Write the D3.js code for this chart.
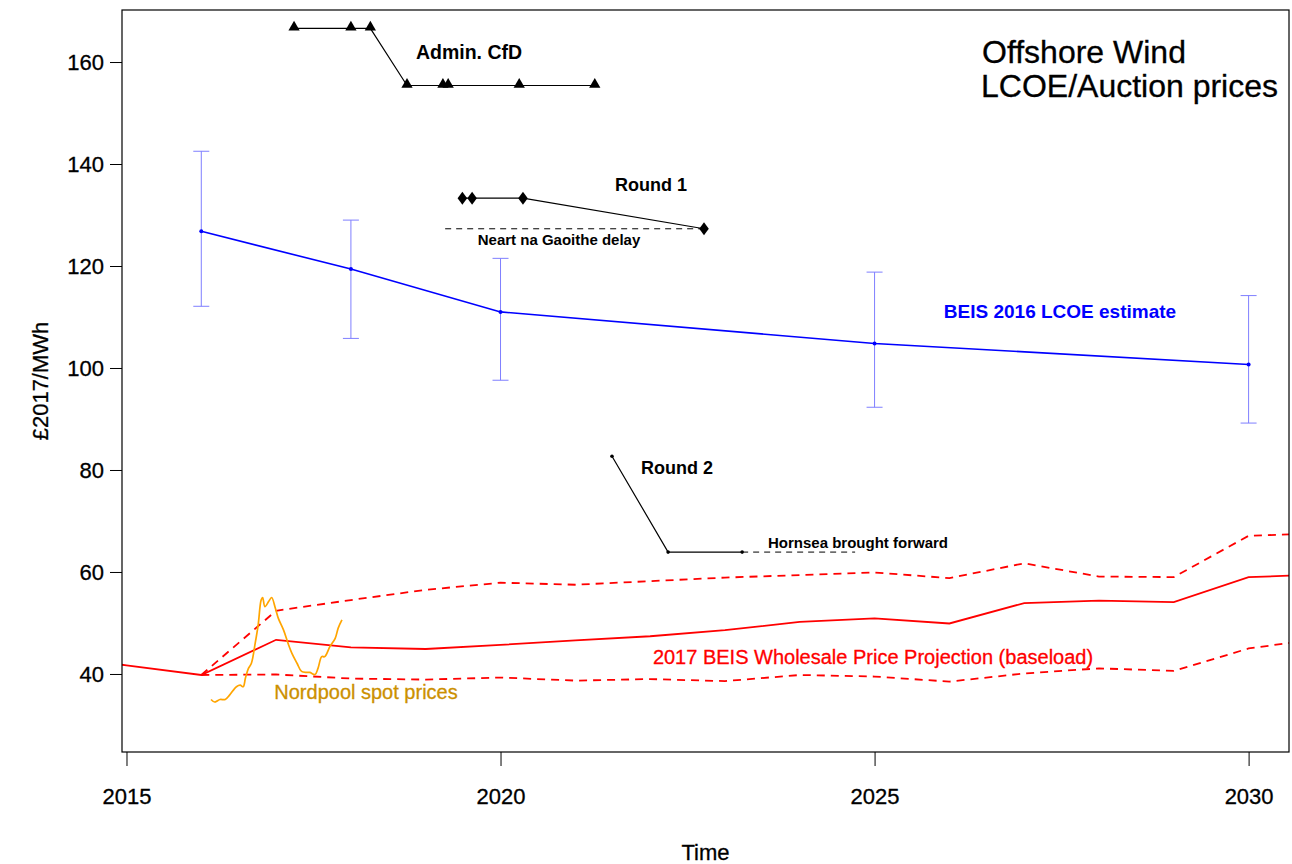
<!DOCTYPE html>
<html>
<head>
<meta charset="utf-8">
<script src="https://cdn.jsdelivr.net/npm/d3@7"></script>
<style>
  html, body { margin: 0; padding: 0; background: #fff; }
  svg { display: block; font-family: "Liberation Sans", Arial, sans-serif; }
</style>
</head>
<body>
<svg id="chart" width="1292" height="864"></svg>
<script>
// ---- Axis ticks ----
const xTicks = [2015, 2020, 2025, 2030];
const yTicks = [40, 60, 80, 100, 120, 140, 160];

// ---- BEIS 2016 LCOE estimate (central, low, high) ----
const lcoeYears = [2016, 2018, 2020, 2025, 2030];
const lcoeCentral = [126.8, 119.4, 111.0, 104.8, 100.7];
const lcoeLow = [112.1, 105.8, 97.6, 92.3, 89.2];
const lcoeHigh = [142.5, 129.0, 121.5, 118.8, 114.2];

// ---- Administrative CfD strike prices ----
const cfdYears = [2017.24, 2018.0, 2018.26, 2018.75, 2019.23, 2019.30, 2020.25, 2021.26];
const cfdPrices = [166.6, 166.6, 166.6, 155.4, 155.4, 155.4, 155.4, 155.4];

// ---- Auction Round 1 ----
const r1Years = [2019.49, 2019.62, 2020.30, 2022.72];
const r1Prices = [133.3, 133.3, 133.3, 127.3];
const r1DelayYears = [2019.26, 2022.72];

// ---- Auction Round 2 ----
const r2Years = [2021.49, 2022.24, 2023.23];
const r2Prices = [82.7, 63.9, 63.9];
const r2ForwardYears = [2023.23, 2024.74];

// ---- 2017 BEIS wholesale price projection (baseload) ----
const wsYears = [2014, 2015, 2016, 2017, 2018, 2019, 2020, 2021, 2022, 2023, 2024, 2025, 2026, 2027, 2028, 2029, 2030, 2031];
const wsCentral = [43.6, 41.7, 39.8, 46.7, 45.2, 44.9, 45.7, 46.6, 47.4, 48.6, 50.2, 50.9, 49.9, 53.9, 54.4, 54.1, 59.0, 59.5];
const wsHighYears = [2016, 2017, 2018, 2019, 2020, 2021, 2022, 2023, 2024, 2025, 2026, 2027, 2028, 2029, 2030, 2031];
const wsHigh = [39.8, 52.4, 54.5, 56.5, 57.9, 57.5, 58.2, 58.9, 59.4, 59.9, 58.8, 61.7, 59.1, 59.0, 67.1, 67.6];
const wsLow = [39.8, 39.9, 39.1, 38.9, 39.3, 38.7, 39.0, 38.6, 39.8, 39.5, 38.5, 40.1, 41.1, 40.6, 45.0, 47.0];

// ---- Nordpool spot prices (smoothed) ----
const nordYears = [2016.13, 2016.18, 2016.25, 2016.32, 2016.38, 2016.47, 2016.52, 2016.56, 2016.59, 2016.63,
  2016.67, 2016.72, 2016.76, 2016.80, 2016.82, 2016.85, 2016.90, 2016.94, 2016.99, 2017.03,
  2017.10, 2017.16, 2017.21, 2017.28, 2017.34, 2017.41, 2017.45, 2017.52, 2017.56, 2017.61,
  2017.65, 2017.72, 2017.79, 2017.83, 2017.88];
const nordPrices = [35.0, 34.5, 35.0, 35.0, 35.9, 37.5, 37.8, 37.5, 39.2, 41.1,
  42.1, 46.0, 49.6, 54.5, 55.0, 53.2, 54.2, 55.0, 52.9, 50.9,
  48.6, 46.0, 44.1, 42.1, 40.5, 40.3, 40.3, 39.9, 41.1, 43.4,
  43.4, 45.4, 47.0, 49.0, 50.6];

// ---- Layout ----
const plot = { left: 122, right: 1289, top: 10, bottom: 752 };
const x = d3.scaleLinear().domain([2014.94, 2030.54]).range([plot.left, plot.right]);
const y = d3.scaleLinear().domain([24.7, 170.2]).range([plot.bottom, plot.top]);

const svg = d3.select("#chart");

svg.append("defs").append("clipPath").attr("id", "plot-clip")
  .append("rect")
  .attr("x", plot.left).attr("y", plot.top)
  .attr("width", plot.right - plot.left).attr("height", plot.bottom - plot.top);

const g = svg.append("g").attr("clip-path", "url(#plot-clip)");

const line = d3.line().x(d => x(d[0])).y(d => y(d[1]));
const zip = (a, b) => a.map((v, i) => [v, b[i]]);

// Wholesale price projection: central solid, high/low dashed
g.append("path").datum(zip(wsHighYears, wsHigh))
  .attr("d", line).attr("fill", "none").attr("stroke", "#ff0000")
  .attr("stroke-width", 1.8).attr("stroke-dasharray", "8,6");
g.append("path").datum(zip(wsHighYears, wsLow))
  .attr("d", line).attr("fill", "none").attr("stroke", "#ff0000")
  .attr("stroke-width", 1.8).attr("stroke-dasharray", "8,6");
g.append("path").datum(zip(wsYears, wsCentral))
  .attr("d", line).attr("fill", "none").attr("stroke", "#ff0000")
  .attr("stroke-width", 1.8);

// Nordpool spot prices
g.append("path").datum(zip(nordYears, nordPrices))
  .attr("d", d3.line().x(d => x(d[0])).y(d => y(d[1])).curve(d3.curveCatmullRom))
  .attr("fill", "none").attr("stroke", "#ffa500").attr("stroke-width", 1.7);

// LCOE error bars
const capHalf = 8;
lcoeYears.forEach((yr, i) => {
  const eb = g.append("g").attr("stroke", "#7f7fff").attr("stroke-width", 1);
  eb.append("line").attr("x1", x(yr)).attr("x2", x(yr)).attr("y1", y(lcoeLow[i])).attr("y2", y(lcoeHigh[i]));
  eb.append("line").attr("x1", x(yr) - capHalf).attr("x2", x(yr) + capHalf).attr("y1", y(lcoeLow[i])).attr("y2", y(lcoeLow[i]));
  eb.append("line").attr("x1", x(yr) - capHalf).attr("x2", x(yr) + capHalf).attr("y1", y(lcoeHigh[i])).attr("y2", y(lcoeHigh[i]));
});
g.append("path").datum(zip(lcoeYears, lcoeCentral))
  .attr("d", line).attr("fill", "none").attr("stroke", "#0000ff").attr("stroke-width", 1.6);
g.selectAll(".lcoe-pt").data(zip(lcoeYears, lcoeCentral)).enter().append("circle")
  .attr("cx", d => x(d[0])).attr("cy", d => y(d[1])).attr("r", 2).attr("fill", "#0000ff");

// Administrative CfD
g.append("path").datum(zip(cfdYears, cfdPrices))
  .attr("d", line).attr("fill", "none").attr("stroke", "#000").attr("stroke-width", 1.2);
const tri = d3.symbol().type(d3.symbolTriangle).size(55);
g.selectAll(".cfd-pt").data(zip(cfdYears, cfdPrices)).enter().append("path")
  .attr("d", tri).attr("transform", d => `translate(${x(d[0])},${y(d[1]) - 1})`).attr("fill", "#000");

// Round 1
g.append("path").datum(zip(r1DelayYears, [r1Prices[3], r1Prices[3]]))
  .attr("d", line).attr("fill", "none").attr("stroke", "#000")
  .attr("stroke-width", 1).attr("stroke-dasharray", "6,5");
g.append("path").datum(zip(r1Years, r1Prices))
  .attr("d", line).attr("fill", "none").attr("stroke", "#000").attr("stroke-width", 1.2);
const diamond = d3.symbol().type(d3.symbolDiamond).size(60);
g.selectAll(".r1-pt").data(zip(r1Years, r1Prices)).enter().append("path")
  .attr("d", diamond).attr("transform", d => `translate(${x(d[0])},${y(d[1])}) scale(1.15,0.9)`).attr("fill", "#000");

// Round 2
g.append("path").datum(zip(r2ForwardYears, [r2Prices[2], r2Prices[2]]))
  .attr("d", line).attr("fill", "none").attr("stroke", "#000")
  .attr("stroke-width", 1).attr("stroke-dasharray", "6,5");
g.append("path").datum(zip(r2Years, r2Prices))
  .attr("d", line).attr("fill", "none").attr("stroke", "#000").attr("stroke-width", 1.2);
g.selectAll(".r2-pt").data(zip(r2Years, r2Prices)).enter().append("circle")
  .attr("cx", d => x(d[0])).attr("cy", d => y(d[1])).attr("r", 1.8).attr("fill", "#000");

// Plot frame
svg.append("rect")
  .attr("x", plot.left).attr("y", plot.top)
  .attr("width", plot.right - plot.left).attr("height", plot.bottom - plot.top)
  .attr("fill", "none").attr("stroke", "#000").attr("stroke-width", 1.2);

// Axes
const xAxis = d3.axisBottom(x).tickValues(xTicks).tickFormat(d3.format("d")).tickSize(14).tickPadding(22);
const xg = svg.append("g").attr("transform", `translate(0,${plot.bottom})`).call(xAxis);
xg.select(".domain").remove();
xg.selectAll("text").attr("font-size", 22).attr("fill", "#000")
  .attr("font-family", "Liberation Sans, Arial, sans-serif").attr("stroke", "#000").attr("stroke-width", 0.3);

const yAxis = d3.axisLeft(y).tickValues(yTicks).tickSize(12).tickPadding(6);
const yg = svg.append("g").attr("transform", `translate(${plot.left},0)`).call(yAxis);
yg.select(".domain").remove();
yg.selectAll("text")
  .attr("font-size", 22).attr("fill", "#000")
  .attr("font-family", "Liberation Sans, Arial, sans-serif").attr("stroke", "#000").attr("stroke-width", 0.3);

svg.append("text").attr("x", (plot.left + plot.right) / 2).attr("y", 860)
  .attr("text-anchor", "middle").attr("font-size", 22).attr("stroke", "#000").attr("stroke-width", 0.3).text("Time");
svg.append("text").attr("transform", `translate(48,${(plot.top + plot.bottom) / 2}) rotate(-90)`)
  .attr("text-anchor", "middle").attr("font-size", 22).attr("stroke", "#000").attr("stroke-width", 0.3).text("£2017/MWh");

// Title
svg.append("text").attr("x", 982).attr("y", 63).attr("font-size", 32).attr("stroke", "#000").attr("stroke-width", 0.3).text("Offshore Wind");
svg.append("text").attr("x", 981).attr("y", 97).attr("font-size", 32).attr("stroke", "#000").attr("stroke-width", 0.3).text("LCOE/Auction prices");

// Annotations
const note = (txt, cx, cy, size, color, weight) => svg.append("text")
  .attr("x", cx).attr("y", cy).attr("dy", "0.35em").attr("text-anchor", "middle")
  .attr("font-size", size).attr("font-weight", weight || "normal").attr("fill", color || "#000").text(txt);

note("Admin. CfD", 469, 52, 19.5, "#000", "bold");
note("Round 1", 651, 185, 18, "#000", "bold");
note("Neart na Gaoithe delay", 559, 240, 15, "#000", "bold");
note("BEIS 2016 LCOE estimate", 1060, 311, 19, "#0000ff", "bold");
note("Round 2", 677, 468, 18, "#000", "bold");
note("Hornsea brought forward", 858, 543, 15, "#000", "bold");
note("2017 BEIS Wholesale Price Projection (baseload)", 873, 657, 20, "#ff0000", "normal")
  .attr("stroke", "#ff0000").attr("stroke-width", 0.3);
note("Nordpool spot prices", 366, 692, 20, "#cc9000", "normal")
  .attr("stroke", "#cc9000").attr("stroke-width", 0.3);
</script>
</body>
</html>
